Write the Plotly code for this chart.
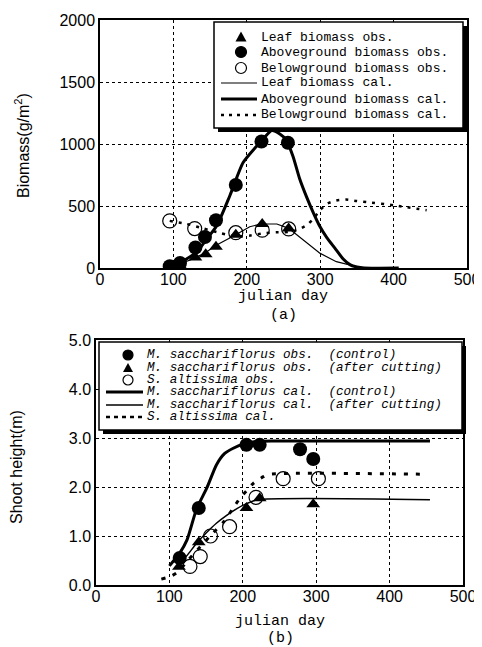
import plotly.graph_objects as go

W, H = 482, 647
OFF = 8  # the page body has a default 8px margin; layout pixels below are screen pixels

# ---------------- data: panel (a) ----------------
above_obs_day = [95, 109, 130, 143, 158, 185, 220, 256]
above_obs_val = [15, 40, 165, 250, 385, 670, 1020, 1010]
leaf_obs_day = [95, 109, 130, 144, 158, 185, 221, 257]
leaf_obs_val = [5, 20, 85, 110, 172, 268, 355, 318]
below_obs_day = [95, 129, 185, 221, 257]
below_obs_val = [380, 318, 285, 305, 315]

above_cal_day = [95, 109, 120, 132, 145, 159, 177, 195, 213, 225, 234, 245, 254, 263, 272, 281, 291, 300, 309, 320, 331, 341, 350, 360, 407]
above_cal_val = [0, 40, 80, 131, 230, 340, 585, 850, 980, 1060, 1108, 1080, 1030, 900, 720, 580, 441, 330, 245, 160, 75, 25, 8, 0, 0]
leaf_cal_day = [95, 110, 123, 143, 159, 185, 204, 220, 241, 257, 277, 300, 322, 345, 357]
leaf_cal_val = [5, 35, 65, 121, 185, 268, 333, 355, 355, 320, 226, 118, 51, 16, 0]
below_cal_day = [95, 118, 140, 165, 186, 205, 222, 240, 257, 270, 282, 291, 300, 310, 322, 335, 350, 365, 400, 445]
below_cal_val = [380, 355, 320, 280, 255, 262, 280, 288, 290, 310, 347, 400, 468, 520, 545, 552, 540, 530, 506, 466]

# ---------------- data: panel (b) ----------------
ctrl_obs_day = [114, 140, 205, 223, 278, 296]
ctrl_obs_val = [0.55, 1.57, 2.86, 2.86, 2.77, 2.57]
cut_obs_day = [113, 140, 205, 223, 296]
cut_obs_val = [0.37, 0.87, 1.57, 1.77, 1.65]
alt_obs_day = [128, 142, 156, 182, 218, 255, 303]
alt_obs_val = [0.38, 0.58, 1.0, 1.19, 1.79, 2.17, 2.17]

ctrl_cal_day = [100, 114, 124, 137, 151, 164, 175, 187, 201, 219, 240, 455]
ctrl_cal_val = [0.39, 0.65, 0.92, 1.55, 1.98, 2.45, 2.68, 2.79, 2.88, 2.93, 2.94, 2.94]
cut_cal_day = [112, 125, 137, 150, 164, 178, 192, 205, 219, 455]
cut_cal_val = [0.39, 0.62, 0.85, 1.06, 1.26, 1.42, 1.56, 1.66, 1.74, 1.74]
alt_cal_day = [89, 101, 112, 125, 142, 158, 174, 186, 196, 205, 214, 228, 237, 451]
alt_cal_val = [0.12, 0.17, 0.27, 0.5, 0.78, 1.04, 1.29, 1.55, 1.77, 1.92, 2.07, 2.21, 2.26, 2.26]

x_ticks = [0, 100, 200, 300, 400, 500]
ya_ticks = [0, 500, 1000, 1500, 2000]
yb_ticks = [0.0, 1.0, 2.0, 3.0, 4.0, 5.0]

legend_a = ["Leaf biomass obs.", "Aboveground biomass obs.", "Belowground biomass obs.",
            "Leaf biomass cal.", "Aboveground biomass cal.", "Belowground biomass cal."]
legend_b = ["M. sacchariflorus obs.  (control)", "M. sacchariflorus obs.  (after cutting)",
            "S. altissima obs.", "M. sacchariflorus cal.  (control)",
            "M. sacchariflorus cal.  (after cutting)", "S. altissima cal."]

TICKFONT = dict(family="Liberation Sans", size=16, color="black")
MONO = "Liberation Mono, DejaVu Sans Mono"


def px(x):
    return (x - OFF) / W


def py(y):
    return 1 - (y - OFF) / H


fig = go.Figure()

# panel (a) lines
fig.add_trace(go.Scatter(x=leaf_cal_day, y=leaf_cal_val, mode="lines", name=legend_a[3],
                         line=dict(color="black", width=1.2), xaxis="x", yaxis="y"))
fig.add_trace(go.Scatter(x=above_cal_day, y=above_cal_val, mode="lines", name=legend_a[4],
                         line=dict(color="black", width=3, shape="spline", smoothing=0.6), xaxis="x", yaxis="y"))
fig.add_trace(go.Scatter(x=below_cal_day, y=below_cal_val, mode="lines", name=legend_a[5],
                         line=dict(color="black", width=2.5, dash="3px,6px", shape="spline", smoothing=0.6),
                         xaxis="x", yaxis="y"))
# panel (a) markers
fig.add_trace(go.Scatter(x=leaf_obs_day, y=leaf_obs_val, mode="markers", name=legend_a[0],
                         marker=dict(symbol="triangle-up", size=12, color="black"), xaxis="x", yaxis="y"))
fig.add_trace(go.Scatter(x=above_obs_day, y=above_obs_val, mode="markers", name=legend_a[1],
                         marker=dict(symbol="circle", size=14, color="black"), xaxis="x", yaxis="y"))
fig.add_trace(go.Scatter(x=below_obs_day, y=below_obs_val, mode="markers", name=legend_a[2],
                         marker=dict(symbol="circle-open", size=14, color="black", line=dict(width=1.2)),
                         xaxis="x", yaxis="y"))

# panel (b) lines
fig.add_trace(go.Scatter(x=ctrl_cal_day, y=ctrl_cal_val, mode="lines", name=legend_b[3],
                         line=dict(color="black", width=3, shape="spline", smoothing=0.6), xaxis="x2", yaxis="y2"))
fig.add_trace(go.Scatter(x=cut_cal_day, y=cut_cal_val, mode="lines", name=legend_b[4],
                         line=dict(color="black", width=1.5, shape="spline", smoothing=0.6), xaxis="x2", yaxis="y2"))
fig.add_trace(go.Scatter(x=alt_cal_day, y=alt_cal_val, mode="lines", name=legend_b[5],
                         line=dict(color="black", width=3, dash="4px,8px", shape="spline", smoothing=0.6),
                         xaxis="x2", yaxis="y2"))
# panel (b) markers
fig.add_trace(go.Scatter(x=ctrl_obs_day, y=ctrl_obs_val, mode="markers", name=legend_b[0],
                         marker=dict(symbol="circle", size=14, color="black"), xaxis="x2", yaxis="y2"))
fig.add_trace(go.Scatter(x=cut_obs_day, y=cut_obs_val, mode="markers", name=legend_b[1],
                         marker=dict(symbol="triangle-up", size=12, color="black"), xaxis="x2", yaxis="y2"))
fig.add_trace(go.Scatter(x=alt_obs_day, y=alt_obs_val, mode="markers", name=legend_b[2],
                         marker=dict(symbol="circle-open", size=14, color="black", line=dict(width=1.2)),
                         xaxis="x2", yaxis="y2"))

axis_common = dict(showline=True, mirror=True, linecolor="black", linewidth=1.5,
                   showgrid=True, gridcolor="black", gridwidth=1, griddash="dot",
                   zeroline=False, ticks="", tickfont=TICKFONT, automargin=False)

fig.update_layout(
    width=W, height=H, margin=dict(l=0, r=0, t=0, b=0),
    paper_bgcolor="white", plot_bgcolor="white", showlegend=False,
    xaxis=dict(domain=[px(100), px(467)], range=[0, 500], tickvals=x_ticks, anchor="y",
               ticklabelstandoff=-4, **axis_common),
    yaxis=dict(domain=[py(268), py(20)], range=[0, 2000], tickvals=ya_ticks, anchor="x", **axis_common),
    xaxis2=dict(domain=[px(96), px(463)], range=[0, 500], tickvals=x_ticks, anchor="y2",
                ticklabelstandoff=-4, **axis_common),
    yaxis2=dict(domain=[py(585), py(340)], range=[0, 5], tickvals=yb_ticks, tickformat=".1f",
                anchor="x2", **axis_common),
)

annotations = []
shapes = []


def label(x, y, text, font, angle=0):
    annotations.append(dict(x=px(x), y=py(y), xref="paper", yref="paper", text=text, textangle=angle,
                            xanchor="center", yanchor="middle", showarrow=False, font=font))


# axis titles
label(22, 146, "Biomass(g/m<sup>2</sup>)", dict(family="Liberation Sans", size=16, color="black"), -90)
label(16, 467, "Shoot height(m)", dict(family="Liberation Sans", size=16, color="black"), -90)
label(283, 296, "julian day", dict(family=MONO, size=15, color="black"))
label(283, 315, "(a)", dict(family=MONO, size=15, color="black"))
label(280, 621, "julian day", dict(family=MONO, size=15, color="black"))
label(280, 638, "(b)", dict(family=MONO, size=15, color="black"))


def legend_box(x0, y0, x1, y1):
    shapes.append(dict(type="rect", xref="paper", yref="paper", x0=px(x0 + 4), x1=px(x1 + 4),
                       y0=py(y1 + 4), y1=py(y0 + 4), fillcolor="black", line=dict(width=0), layer="above"))
    shapes.append(dict(type="rect", xref="paper", yref="paper", x0=px(x0), x1=px(x1),
                       y0=py(y1), y1=py(y0), fillcolor="white", line=dict(color="black", width=1.5), layer="above"))


def sym(kind, cx, cy, size):
    r = size / 2
    if kind == "tri":
        path = "M {} {} L {} {} L {} {} Z".format(px(cx - r), py(cy + r * 0.8), px(cx + r), py(cy + r * 0.8),
                                                  px(cx), py(cy - r))
        shapes.append(dict(type="path", xref="paper", yref="paper", path=path, fillcolor="black",
                           line=dict(width=0), layer="above"))
    else:
        shapes.append(dict(type="circle", xref="paper", yref="paper", x0=px(cx - r), x1=px(cx + r),
                           y0=py(cy + r), y1=py(cy - r),
                           fillcolor="black" if kind == "fill" else "white",
                           line=dict(color="black", width=1.2), layer="above"))


def leg_line(x0, x1, cy, width, dash):
    shapes.append(dict(type="line", xref="paper", yref="paper", x0=px(x0), x1=px(x1), y0=py(cy), y1=py(cy),
                       line=dict(color="black", width=width, dash=dash), layer="above"))


# legend (a)
legend_box(214, 22, 463, 128)
rows_a = [37, 52, 68, 83, 99, 115]
sym("tri", 241, rows_a[0], 11)
sym("fill", 241, rows_a[1], 11)
sym("open", 241, rows_a[2], 11)
leg_line(221, 257, rows_a[3], 1.2, "solid")
leg_line(221, 257, rows_a[4], 3, "solid")
leg_line(221, 257, rows_a[5], 2.5, "3px,5px")
for r, t in zip(rows_a, legend_a):
    annotations.append(dict(x=px(259), y=py(r), xref="paper", yref="paper", text=t, xanchor="left",
                            yanchor="middle", showarrow=False, font=dict(family=MONO, size=13, color="black")))

# legend (b)
legend_box(99, 342, 462, 430)
rows_b = [355, 368, 380, 392, 405, 417]
sym("fill", 128, rows_b[0], 10)
sym("tri", 128, rows_b[1], 10)
sym("open", 128, rows_b[2], 10)
leg_line(106, 143, rows_b[3], 3, "solid")
leg_line(106, 143, rows_b[4], 1.5, "solid")
leg_line(106, 143, rows_b[5], 2.5, "4px,4px")
for r, t in zip(rows_b, legend_b):
    annotations.append(dict(x=px(145), y=py(r), xref="paper", yref="paper", text="<i>" + t + "</i>",
                            xanchor="left", yanchor="middle", showarrow=False,
                            font=dict(family=MONO, size=12.6, color="black")))

fig.update_layout(annotations=annotations, shapes=shapes)
fig.write_html("out.html")
